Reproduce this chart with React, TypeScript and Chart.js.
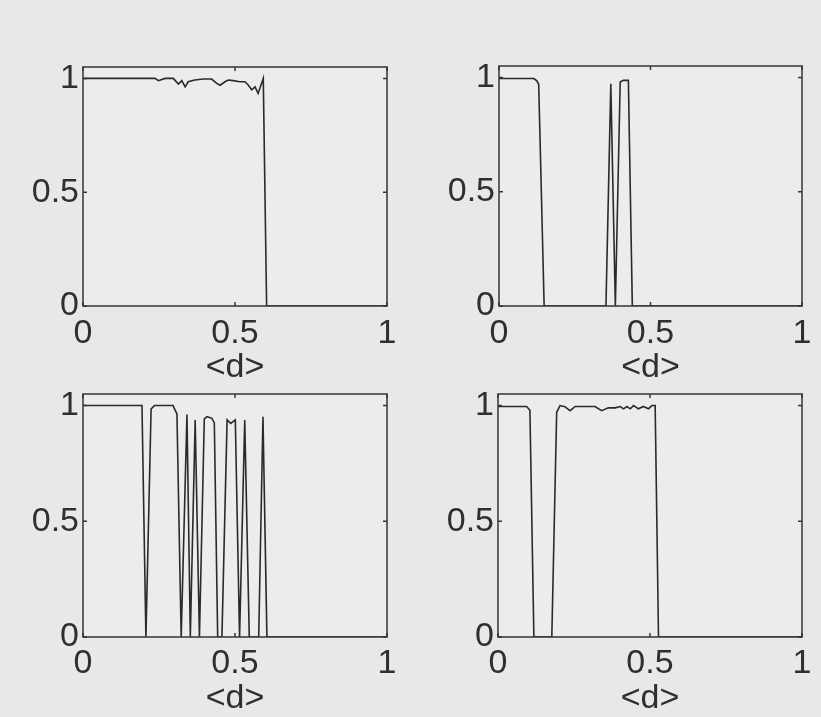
import React, { useEffect, useRef } from "react";
import { Chart, registerables } from "chart.js";

Chart.register(...registerables);

// Axis ticks and label shared by all four panels
const X_TICKS = [0, 0.5, 1];
const Y_TICKS = [0, 0.5, 1];
const X_LABEL = "<d>";

// Panel (a): near 1 with small ripples, then collapse
const panelA_x = [0, 0.237, 0.248, 0.27, 0.297, 0.314, 0.325, 0.336, 0.346, 0.368, 0.396, 0.423, 0.44, 0.451, 0.467, 0.478, 0.494, 0.516, 0.533, 0.544, 0.555, 0.566, 0.576, 0.593, 0.604, 1];
const panelA_y = [1, 1, 0.99, 1, 1, 0.975, 0.99, 0.963, 0.985, 0.993, 0.997, 0.997, 0.978, 0.97, 0.985, 0.993, 0.99, 0.985, 0.985, 0.97, 0.95, 0.963, 0.934, 1, 0, 0];

// Panel (b): early drop, two narrow windows
const panelB_x = [0, 0.115, 0.125, 0.131, 0.149, 0.353, 0.369, 0.384, 0.4, 0.41, 0.427, 0.44, 1];
const panelB_y = [0.995, 0.995, 0.985, 0.97, 0, 0, 0.972, 0, 0.98, 0.987, 0.987, 0, 0];

// Panel (c): intermittent windows
const panelC_x = [0, 0.194, 0.207, 0.224, 0.235, 0.296, 0.309, 0.323, 0.342, 0.353, 0.369, 0.383, 0.399, 0.408, 0.424, 0.432, 0.443, 0.457, 0.474, 0.486, 0.501, 0.515, 0.532, 0.547, 0.578, 0.592, 0.605, 1];
const panelC_y = [1, 1, 0, 0.985, 1, 1, 0.964, 0, 0.961, 0, 0.938, 0, 0.942, 0.952, 0.945, 0.925, 0, 0, 0.938, 0.923, 0.938, 0, 0.938, 0, 0, 0.952, 0, 0];

// Panel (d): early gap, then a long plateau
const panelD_x = [0, 0.094, 0.105, 0.118, 0.177, 0.193, 0.204, 0.22, 0.237, 0.254, 0.319, 0.341, 0.363, 0.385, 0.402, 0.413, 0.424, 0.435, 0.446, 0.462, 0.478, 0.495, 0.506, 0.517, 0.528, 1];
const panelD_y = [0.996, 0.996, 0.98, 0, 0, 0.971, 1, 0.995, 0.978, 0.996, 0.996, 0.978, 0.99, 0.99, 0.996, 0.986, 0.996, 0.986, 1, 0.986, 0.996, 0.986, 1, 1, 0, 0];

const PAGE_W = 821;
const PAGE_H = 717;
const Y_AXIS_W = 70;
const X_AXIS_H = 79;
const FONT_SIZE = 34;
const FONT_FAMILY = "'Liberation Sans', Arial, Helvetica, sans-serif";
const INK = "#2f2f2f";
const LINE = "#2a2a2a";
const PAGE_BG = "#e8e8e8";
const PLOT_BG = "#ececec";

type Frame = { left: number; top: number; right: number; bottom: number; tickPad: number };

const PANELS: { xs: number[]; ys: number[]; frame: Frame }[] = [
  { xs: panelA_x, ys: panelA_y, frame: { left: 83, top: 67, right: 387, bottom: 306, tickPad: 7 } },
  { xs: panelB_x, ys: panelB_y, frame: { left: 499, top: 66, right: 802, bottom: 306, tickPad: 7 } },
  { xs: panelC_x, ys: panelC_y, frame: { left: 83, top: 394, right: 387, bottom: 637, tickPad: 6 } },
  { xs: panelD_x, ys: panelD_y, frame: { left: 498, top: 394, right: 802, bottom: 637, tickPad: 6 } },
];

// Plot-area fill plus a full box with short inward ticks on all four sides
const boxPlugin = {
  id: "matBox",
  beforeDatasetsDraw(chart: any) {
    const { ctx, chartArea: a } = chart;
    ctx.save();
    ctx.fillStyle = PLOT_BG;
    ctx.fillRect(a.left, a.top, a.right - a.left, a.bottom - a.top);
    ctx.restore();
  },
  afterDatasetsDraw(chart: any) {
    const { ctx, chartArea: a, scales } = chart;
    ctx.save();
    ctx.strokeStyle = "#353535";
    ctx.lineWidth = 1.5;
    ctx.strokeRect(a.left, a.top, a.right - a.left, a.bottom - a.top);
    const len = 4;
    ctx.beginPath();
    for (const v of X_TICKS) {
      const px = scales.x.getPixelForValue(v);
      ctx.moveTo(px, a.bottom);
      ctx.lineTo(px, a.bottom - len);
      ctx.moveTo(px, a.top);
      ctx.lineTo(px, a.top + len);
    }
    for (const v of Y_TICKS) {
      const py = scales.y.getPixelForValue(v);
      ctx.moveTo(a.left, py);
      ctx.lineTo(a.left + len, py);
      ctx.moveTo(a.right, py);
      ctx.lineTo(a.right - len, py);
    }
    ctx.stroke();
    ctx.restore();
  },
};

function Panel({ xs, ys, frame }: { xs: number[]; ys: number[]; frame: Frame }) {
  const ref = useRef<HTMLCanvasElement | null>(null);

  useEffect(() => {
    if (!ref.current) return;
    const font = { family: FONT_FAMILY, size: FONT_SIZE };
    const chart = new Chart(ref.current, {
      type: "line",
      data: {
        datasets: [
          {
            data: xs.map((x, i) => ({ x, y: ys[i] })),
            borderColor: LINE,
            borderWidth: 1.6,
            pointRadius: 0,
            tension: 0,
            fill: false,
          },
        ],
      },
      options: {
        responsive: false,
        animation: false,
        events: [],
        layout: {
          padding: {
            left: frame.left - Y_AXIS_W,
            top: frame.top,
            right: PAGE_W - frame.right,
            bottom: PAGE_H - frame.bottom - X_AXIS_H,
          },
        },
        plugins: { legend: { display: false }, tooltip: { enabled: false } },
        scales: {
          x: {
            type: "linear",
            min: 0,
            max: 1,
            grid: { display: false, drawTicks: false },
            border: { display: false },
            afterBuildTicks: (s: any) => {
              s.ticks = X_TICKS.map((v) => ({ value: v }));
            },
            afterFit: (s: any) => {
              s.height = X_AXIS_H;
              s.paddingLeft = 0;
              s.paddingRight = 0;
            },
            ticks: {
              font,
              color: INK,
              padding: frame.tickPad,
              maxRotation: 0,
              autoSkip: false,
              callback: (v: any) => String(v),
            },
            title: {
              display: true,
              text: X_LABEL,
              color: INK,
              font: { family: FONT_FAMILY, size: FONT_SIZE, lineHeight: 1 },
              padding: { top: 0, bottom: 0 },
            },
          },
          y: {
            type: "linear",
            min: 0,
            max: 1.05,
            grid: { display: false, drawTicks: false },
            border: { display: false },
            afterBuildTicks: (s: any) => {
              s.ticks = Y_TICKS.map((v) => ({ value: v }));
            },
            afterFit: (s: any) => {
              s.width = Y_AXIS_W;
              s.paddingTop = 0;
              s.paddingBottom = 0;
            },
            ticks: {
              font,
              color: INK,
              padding: 4,
              autoSkip: false,
              callback: (v: any) => String(v),
            },
          },
        },
      } as any,
      plugins: [boxPlugin],
    });
    return () => chart.destroy();
  }, [xs, ys, frame]);

  return (
    <canvas
      ref={ref}
      width={PAGE_W}
      height={PAGE_H}
      style={{ position: "absolute", left: 0, top: 0, width: PAGE_W, height: PAGE_H }}
    />
  );
}

export default function App() {
  return (
    <div
      style={{
        position: "fixed",
        left: 0,
        top: 0,
        width: PAGE_W,
        height: PAGE_H,
        background: PAGE_BG,
        overflow: "hidden",
      }}
    >
      {PANELS.map((p, i) => (
        <Panel key={i} xs={p.xs} ys={p.ys} frame={p.frame} />
      ))}
    </div>
  );
}
